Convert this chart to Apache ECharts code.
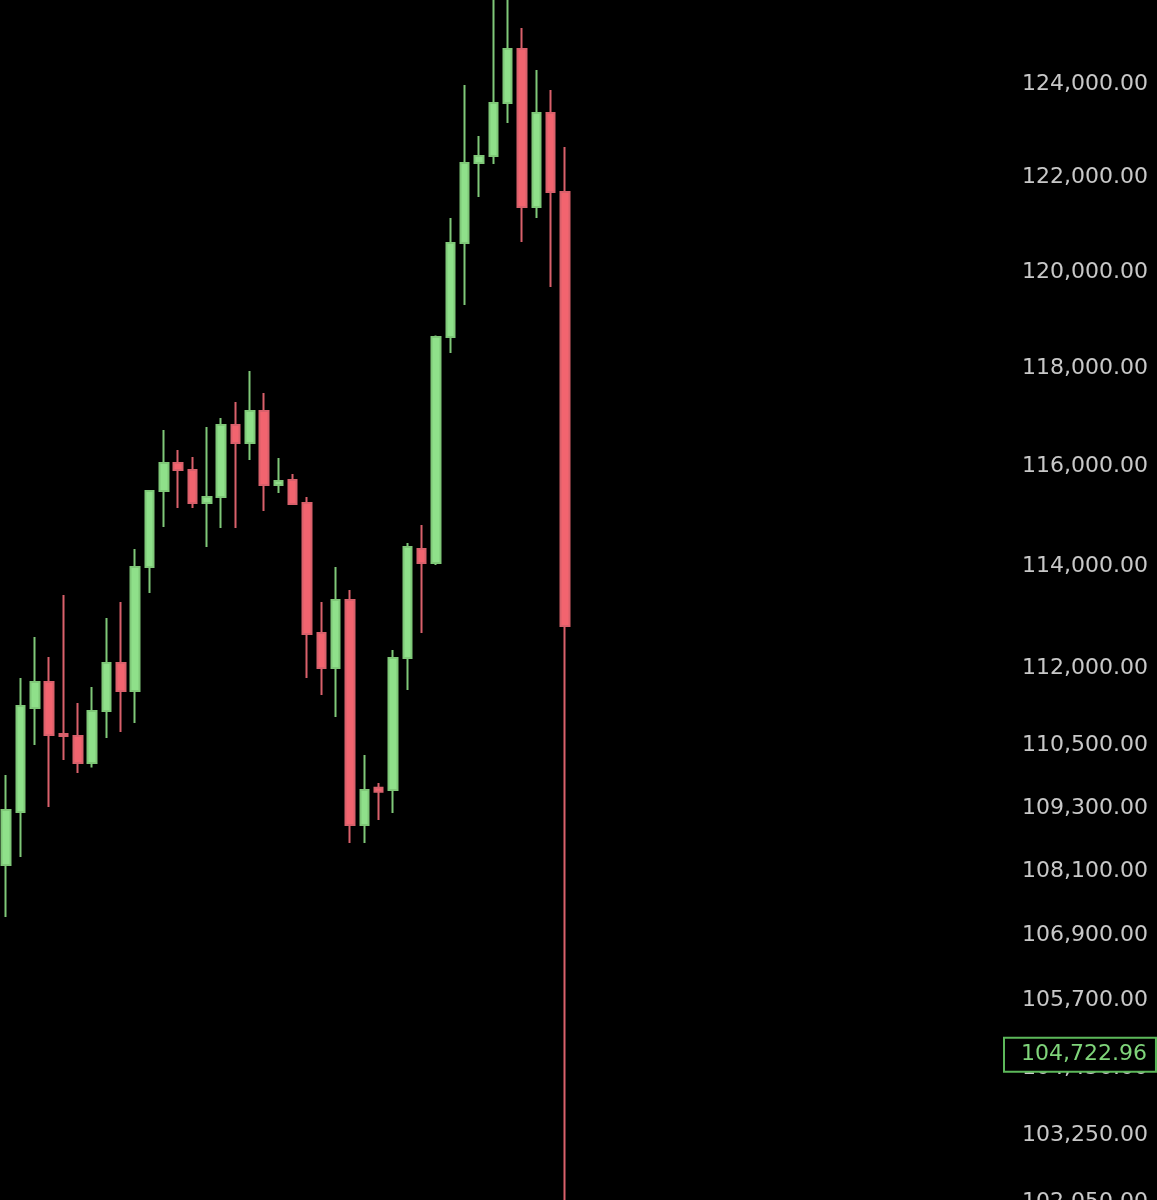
<!DOCTYPE html>
<html lang="en">

<head>
    <meta charset="UTF-8">
    <title>BTC daily candles</title>
    <script src="https://cdn.jsdelivr.net/npm/echarts@6.0.0/dist/echarts.min.js"></script>
    <style>
        html, body { margin: 0; padding: 0; background: #000; }
        #mychart { width: 1157px; height: 1200px; }
    </style>
</head>

<body>
    <div id="mychart"></div>
</body>

<script>
    // daily candles, 1 Sep .. 10 Oct
    var categories = ['09-01', '09-02', '09-03', '09-04', '09-05', '09-06', '09-07', '09-08', '09-09', '09-10',
        '09-11', '09-12', '09-13', '09-14', '09-15', '09-16', '09-17', '09-18', '09-19', '09-20',
        '09-21', '09-22', '09-23', '09-24', '09-25', '09-26', '09-27', '09-28', '09-29', '09-30',
        '10-01', '10-02', '10-03', '10-04', '10-05', '10-06', '10-07', '10-08', '10-09', '10-10'];

    var opens = [108148, 109151, 111147, 111652, 110645, 110605, 110088, 111089, 112022, 111476,
        113912, 115430, 115995, 115853, 115189, 115310, 116764, 116400, 117051, 115551,
        115651, 115189, 112609, 111925, 113258, 108904, 109611, 109572, 112120, 114270,
        113992, 118570, 120528, 122219, 122369, 123504, 124672, 121286, 123289, 121603];
    var closes = [109189, 111186, 111652, 110625, 110605, 110088, 111089, 112022, 111476, 113912,
        115430, 115995, 115853, 115189, 115310, 116764, 116400, 117051, 115551, 115631,
        115169, 112589, 111925, 113258, 108904, 109572, 109534, 112120, 114310, 113992,
        118570, 120528, 122219, 122369, 123504, 124672, 121286, 123289, 121603, 112747];
    var lows = [107173, 108299, 110433, 109245, 110143, 109896, 110000, 110567, 110683, 110856,
        113397, 114709, 115088, 115088, 114310, 114690, 114690, 116056, 115029, 115391,
        115150, 111730, 111399, 110973, 108562, 108562, 109000, 109133, 111496, 112609,
        113950, 118239, 119232, 121498, 122195, 123075, 120549, 121054, 119607, 102000];
    var highs = [109858, 111730, 112530, 112139, 113357, 111243, 111554, 112903, 113219, 114270,
        115450, 116663, 116259, 116116, 116725, 116908, 117233, 117869, 117418, 116096,
        115773, 115310, 113219, 113912, 113456, 110240, 109704, 112276, 114389, 114748,
        118600, 121054, 123892, 122796, 125800, 126200, 125128, 124216, 123784, 122561];

    // price scale labels on the right
    var tickValues = [124000, 122000, 120000, 118000, 116000, 114000, 112000,
        110500, 109300, 108100, 106900, 105700, 104450, 103250, 102050];
    var lastPrice = 104722.96;

    // visible price range (top / bottom of the picture)
    var priceTop = 125740;
    var priceBottom = 102015;

    // empty slots to the right of the last candle
    var emptySlots = 30;

    function fmt(v) {
        return v.toLocaleString('en-US', { minimumFractionDigits: 2, maximumFractionDigits: 2 });
    }

    var mychart = echarts.init(document.getElementById('mychart'));

    // log price scale: the axis works on ln(price)
    var candleData = [];
    for (var i = 0; i < opens.length; i++) {
        candleData.push([Math.log(opens[i]), Math.log(closes[i]), Math.log(lows[i]), Math.log(highs[i])]);
    }
    var xData = categories.slice();
    for (var k = 0; k < emptySlots; k++) {
        xData.push('+' + (k + 1));
    }

    mychart.setOption({
        backgroundColor: '#000',
        animation: false,
        grid: {
            left: -1,
            right: 155,
            top: 0,
            bottom: 0,
            outerBoundsMode: 'none'
        },
        xAxis: {
            type: 'category',
            data: xData,
            boundaryGap: true,
            axisLine: { show: false },
            axisTick: { show: false },
            axisLabel: { show: false },
            splitLine: { show: false }
        },
        yAxis: {
            type: 'value',
            position: 'right',
            min: Math.log(priceBottom),
            max: Math.log(priceTop),
            axisLine: { show: false },
            axisTick: { show: false },
            splitLine: { show: false },
            axisLabel: {
                customValues: tickValues.map(function (v) { return Math.log(v); }),
                // rich block so the text can sit a few px lower, like the reference
                formatter: function (v) { return '{p|' + fmt(Math.round(Math.exp(v))) + '}'; },
                margin: 20,
                rich: {
                    p: {
                        color: '#c8c8c8',
                        fontFamily: 'DejaVu Sans',
                        fontSize: 22,
                        padding: [8, 0, 0, 0]
                    }
                }
            }
        },
        series: [{
            type: 'candlestick',
            data: candleData,
            barWidth: 9,
            itemStyle: {
                color: '#8fe08a',
                color0: '#f2646f',
                borderColor: '#7fc878',
                borderColor0: '#d9606b',
                borderWidth: 2
            },
            markLine: {
                silent: true,
                precision: 10,
                symbol: ['none', 'none'],
                lineStyle: { color: 'rgba(0,0,0,0)', width: 0 },
                data: [{ yAxis: Math.log(lastPrice) }],
                label: {
                    show: true,
                    position: 'end',
                    distance: 3,
                    offset: [0, 5],
                    formatter: function () { return fmt(lastPrice); },
                    color: '#7fd47a',
                    fontFamily: 'DejaVu Sans',
                    fontSize: 22,
                    backgroundColor: '#000',
                    borderColor: '#5cb85a',
                    borderWidth: 2,
                    padding: [6, 8, 4, 16]
                }
            }
        }]
    });
</script>

</html>
